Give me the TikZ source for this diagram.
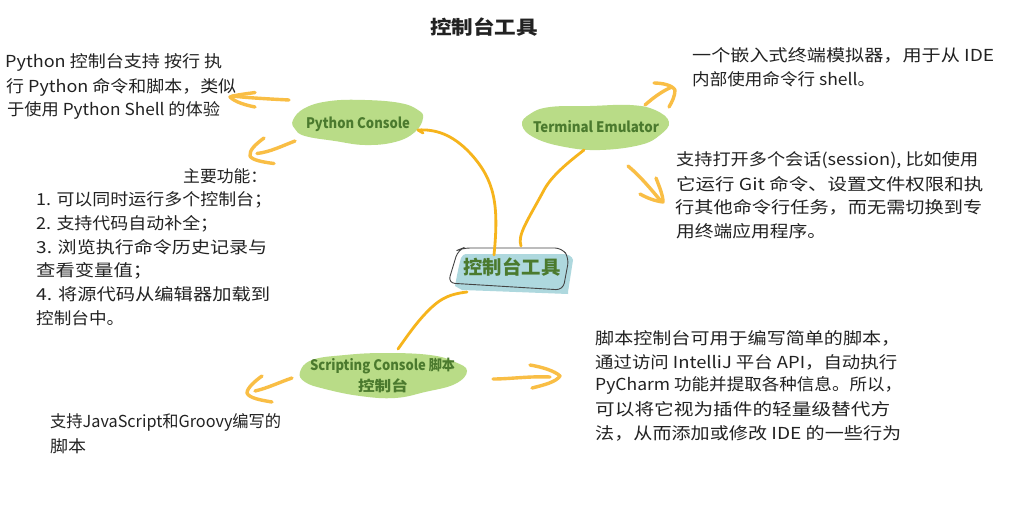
\documentclass[tikz,border=0pt]{standalone}
\usepackage{fontspec}
\usepackage{graphicx}
\setmainfont{Noto Sans CJK SC}
\definecolor{blobgreen}{HTML}{B9DC87}
\definecolor{deepgreen}{HTML}{4B7A2E}
\definecolor{centerblue}{HTML}{AED8DE}
\definecolor{mainline}{HTML}{F6B41C}
\definecolor{arrowline}{HTML}{F9BE45}
\definecolor{inkdark}{HTML}{222222}
\newcommand{\fitw}[2]{\resizebox{#1pt}{\height}{#2}}
\tikzset{
  x=1pt,y=-1pt,
  bodytext/.style={anchor=west,inner sep=0pt,text=inkdark,font=\fontsize{16.5}{20}\selectfont},
  blobtext/.style={inner sep=0pt,text=deepgreen,font=\fontsize{14.5}{18}\selectfont\bfseries},
  blob/.style={fill=blobgreen,draw=none},
  mainconn/.style={draw=mainline,line width=2.8pt,line cap=round,line join=round},
  sideconn/.style={draw=arrowline,line width=3.4pt,line cap=round,line join=round},
}
\begin{document}
\begin{tikzpicture}
\useasboundingbox (0,0) rectangle (1014,517);
\fill[white] (0,0) rectangle (1014,517);

% title
\node[anchor=center,inner sep=0pt,text=inkdark,font=\fontsize{19}{22}\selectfont\bfseries] (title) at (484,27) {\fitw{108}{控制台工具}};

% blobs
\fill[blob] plot[smooth cycle,tension=0.7] coordinates {(293,120)(305,108)(330,101)(365,100)(400,103)(418,110)(423,118)(415,132)(395,142)(365,145)(335,141)(305,136)(295,129)};
\fill[blob] plot[smooth cycle,tension=0.7] coordinates {(522,125)(530,114)(550,107)(590,106)(630,105)(655,110)(669,122)(660,135)(640,145)(600,150)(565,147)(535,138)};
\fill[blob] plot[smooth cycle,tension=0.7] coordinates {(300,372)(312,360)(345,355)(385,353)(430,355)(455,362)(467,371)(455,384)(425,392)(395,398)(360,396)(325,389)(305,382)};

% central topic
\fill[centerblue] (461,258) .. controls (462,255) and (464,254) .. (468,254) -- (562,254) .. controls (568,254) and (572,256) .. (573,260) -- (568,292) -- (568,294) -- (490,291) -- (462,290) -- (455,286) .. controls (457,275) and (459,265) .. (461,258) -- cycle;
\draw[inkdark!85,line width=0.9pt,rounded corners=7pt] (463,248) -- (562,248) -- (569,258) -- (563,290) -- (448,283) -- (458,250) -- cycle;

% topic labels
\node[blobtext,font=\fontsize{19}{22}\selectfont\bfseries] (center) at (512,267) {\fitw{97}{控制台工具}};
\node[blobtext] (py) at (358,124) {\fitw{104}{Python Console}};
\node[blobtext] (term) at (596,127) {\fitw{126}{Terminal Emulator}};
\node[blobtext] (scr1) at (382.5,366) {\fitw{145}{Scripting Console 脚本}};
\node[blobtext] (scr2) at (383,386) {\fitw{50}{控制台}};

% main connectors
\coordinate (cA) at (494,255);
\coordinate (pyEnd) at (418,130);
\coordinate (cB) at (521,246);
\coordinate (termEnd) at (584,150);
\coordinate (cC) at (467,292);
\coordinate (scrEnd) at (398,349);
\draw[mainconn] (cA) .. controls (499,205) and (495,180) .. (470,153) .. controls (452,134) and (435,129) .. (pyEnd);
\draw[mainconn] (pyEnd) -- (423,133);
\draw[mainconn] (cB) .. controls (517,235) and (528,220) .. (544,190) .. controls (552,175) and (570,161) .. (termEnd);
\draw[mainconn] (cC) .. controls (450,294) and (442,298) .. (432,307) .. controls (418,320) and (408,335) .. (scrEnd);

% arrows
\coordinate (a1s) at (289,100); \coordinate (a1e) at (232,96);
\draw[sideconn] (a1s) .. controls (270,99) and (250,98) .. (a1e);
\draw[sideconn] (255,92.5) .. controls (245,94) and (235,95) .. (230,97) .. controls (235,102) and (245,105) .. (255,107);
\coordinate (a2s) at (295,141); \coordinate (a2e) at (257,153.5);
\draw[sideconn] (a2s) .. controls (282,146) and (270,152) .. (a2e);
\draw[sideconn] (264,138) .. controls (256,144) and (249,150) .. (250,156) .. controls (252,160) and (262,162) .. (274,163.5);
\coordinate (a3s) at (645,105); \coordinate (a3e) at (672,87);
\draw[sideconn] (a3s) .. controls (653,98) and (662,91) .. (a3e);
\draw[sideconn] (654,83) .. controls (662,83) and (672,85) .. (675,90) .. controls (675,96) and (672,102) .. (669,107);
\coordinate (a4s) at (628,166); \coordinate (a4e) at (660,200);
\draw[sideconn] (a4s) .. controls (640,176) and (650,188) .. (a4e);
\draw[sideconn] (656,178) .. controls (659,186) and (663,195) .. (663,202) .. controls (655,201) and (647,198) .. (640,194);
\coordinate (a5s) at (292,378); \coordinate (a5e) at (255,391);
\draw[sideconn] (a5s) .. controls (280,382) and (268,388) .. (a5e);
\draw[sideconn] (262,376) .. controls (255,381) and (247,388) .. (247,393) .. controls (249,398) and (260,400) .. (272,402);
\coordinate (a6s) at (493,379); \coordinate (a6e) at (550,377);
\draw[sideconn] (a6s) .. controls (510,379) and (530,376) .. (a6e);
\draw[sideconn] (530,365) .. controls (542,367) and (555,371) .. (560,376) .. controls (556,382) and (544,385) .. (532,388);

% body texts
\node[bodytext] (t1) at (5,62) {\fitw{217}{Python 控制台支持 按行 执}};
\node[bodytext] (t2) at (6,87) {\fitw{230}{行 Python 命令和脚本，类似}};
\node[bodytext] (t3) at (7,110) {\fitw{213}{于使用 Python Shell 的体验}};
\node[bodytext] (t4) at (183,176) {\fitw{84}{主要功能：}};
\node[bodytext] (t5) at (36,200) {\fitw{236}{1. 可以同时运行多个控制台；}};
\node[bodytext] (t6) at (36,224) {\fitw{182}{2. 支持代码自动补全；}};
\node[bodytext] (t7) at (36,247) {\fitw{231}{3. 浏览执行命令历史记录与}};
\node[bodytext] (t8) at (36,271) {\fitw{116}{查看变量值；}};
\node[bodytext] (t9) at (36,294) {\fitw{234}{4. 将源代码从编辑器加载到}};
\node[bodytext] (t10) at (36,318) {\fitw{88}{控制台中。}};

\node[bodytext] (r1) at (692,55) {\fitw{302}{一个嵌入式终端模拟器，用于从 IDE}};
\node[bodytext] (r2) at (692,79) {\fitw{183}{内部使用命令行 shell。}};
\node[bodytext] (r3) at (676,160) {\fitw{302}{支持打开多个会话(session), 比如使用}};
\node[bodytext] (r4) at (676,184) {\fitw{307}{它运行 Git 命令、设置文件权限和执}};
\node[bodytext] (r5) at (675,207) {\fitw{307}{行其他命令行任务，而无需切换到专}};
\node[bodytext] (r6) at (676,231) {\fitw{150}{用终端应用程序。}};

\node[bodytext] (b1) at (595,338) {\fitw{305}{脚本控制台可用于编写简单的脚本，}};
\node[bodytext] (b2) at (595,362) {\fitw{302}{通过访问 IntelliJ 平台 API，自动执行}};
\node[bodytext] (b3) at (595,385) {\fitw{307}{PyCharm 功能并提取各种信息。所以，}};
\node[bodytext] (b4) at (595,409) {\fitw{295}{可以将它视为插件的轻量级替代方}};
\node[bodytext] (b5) at (595,433) {\fitw{306}{法，从而添加或修改 IDE 的一些行为}};
\node[bodytext] (b6) at (50,422) {\fitw{231}{支持JavaScript和Groovy编写的}};
\node[bodytext] (b7) at (50,446) {\fitw{36}{脚本}};
\end{tikzpicture}
\end{document}
